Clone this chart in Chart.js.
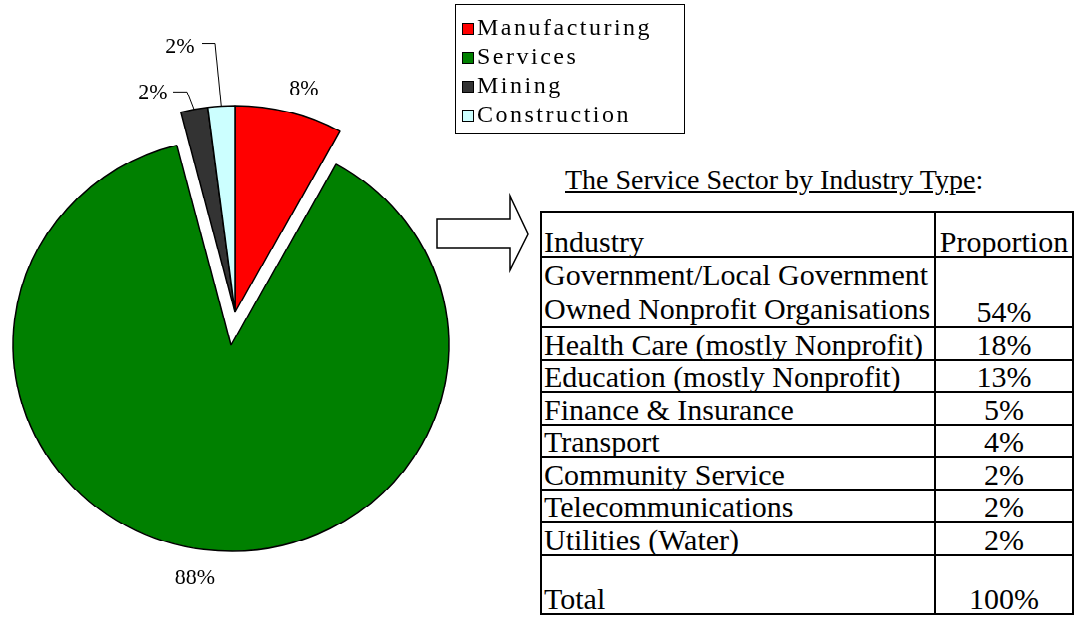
<!DOCTYPE html>
<html>
<head>
<meta charset="utf-8">
<title>Economy by sector</title>
<script src="https://cdn.jsdelivr.net/npm/chart.js@4.4.1/dist/chart.umd.min.js"></script>
<style>
  html, body { margin: 0; padding: 0; background: #fff; overflow: hidden; }
  body { width: 1082px; height: 619px; position: relative; color: #000;
         font-family: 'Liberation Serif', serif; }
  /* the pie is an ellipse, slightly flatter than wide */
  #pieBox { position: absolute; left: 0; top: 0; width: 470px; height: 700px;
            transform: scaleY(0.945); transform-origin: 0 0; }
  #pieBox canvas { position: absolute; left: 0; top: 0; }
  #legend { position: absolute; left: 455px; top: 4px; width: 230px; height: 130px;
            border: 1px solid #000; box-sizing: border-box; padding-top: 8px; }
  #legend div { height: 29px; line-height: 29px; font-size: 24px; letter-spacing: 2.5px;
                padding-left: 6px; white-space: nowrap; }
  #legend span { display: inline-block; width: 12px; height: 12px; border: 1px solid #000;
                 box-sizing: border-box; margin-right: 3px; vertical-align: 0px; }
  #title { position: absolute; left: 565px; top: 164px; font-size: 28px; white-space: nowrap; }
  #arrow { position: absolute; left: 430px; top: 190px; }
  #sectorTable { position: absolute; left: 540px; top: 211px; width: 534px;
                 border-collapse: collapse; font-size: 30px; }
  #sectorTable td { border: 2px solid #000; padding: 0 0 0 2px; vertical-align: bottom;
                    line-height: 29px; white-space: pre; }
  #sectorTable td.gov { line-height: 34px; }
  #sectorTable td.num { text-align: center; width: 136px; padding: 0; }
</style>
</head>
<body>
<div id="pieBox">
  <canvas id="restPie" width="470" height="660"></canvas>
  <canvas id="servicesPie" width="470" height="660"></canvas>
</div>
<div id="legend"></div>
<div id="title"><u>The Service Sector by Industry Type</u>:</div>
<canvas id="arrow" width="110" height="90"></canvas>
<table id="sectorTable"></table>

<script>
// economy split by sector
const sectors = ['Manufacturing', 'Services', 'Mining', 'Construction'];
const sectorShare = [8, 88, 2, 2];
const sectorColors = ['#ff0000', '#008000', '#333333', '#ccffff'];

// breakdown of the service sector
const industries = [
  'Government/Local Government\nOwned Nonprofit Organisations',
  'Health Care (mostly Nonprofit)',
  'Education (mostly Nonprofit)',
  'Finance & Insurance',
  'Transport',
  'Community Service',
  'Telecommunications',
  'Utilities (Water)'
];
const industryShare = [54, 18, 13, 5, 4, 2, 2, 2];

const SQUASH = 0.945;            // matches the scaleY on #pieBox
const PIE_R = 218;
const EXPLODED = 1;              // Services is pulled out of the pie
const EXPLODE_SHIFT = [-4, 35];  // how far the Services canvas sits from the rest
const LABEL_FONT = "22px 'Liberation Serif', serif";

// small slices get their label off to the side with an elbowed leader (page px)
const leaderLabels = {
  2: { text: [153, 93], elbow: [[173, 92], [187, 92]] },
  3: { text: [180, 47], elbow: [[202, 44], [215, 44]] }
};

const pctLabels = {
  id: 'pctLabels',
  afterDatasetsDraw(chart, args, opts) {
    const ctx = chart.ctx;
    const toCanvas = (p) => [p[0] - opts.shift[0], p[1] / SQUASH - opts.shift[1]];
    const arcs = chart.getDatasetMeta(0).data;
    ctx.save();
    ctx.fillStyle = '#000';
    ctx.strokeStyle = '#000';
    ctx.lineWidth = 1;
    ctx.font = LABEL_FONT;
    ctx.textAlign = 'center';
    ctx.textBaseline = 'middle';
    arcs.forEach((arc, i) => {
      if (!opts.shown.includes(i)) return;
      const mid = (arc.startAngle + arc.endAngle) / 2;
      const text = sectorShare[i] + '%';
      let tx, ty;
      if (leaderLabels[i]) {
        const spec = leaderLabels[i];
        const ax = arc.x + Math.cos(mid) * arc.outerRadius;
        const ay = arc.y + Math.sin(mid) * arc.outerRadius;
        ctx.beginPath();
        const pts = spec.elbow.map(toCanvas);
        ctx.moveTo(pts[0][0], pts[0][1]);
        for (let k = 1; k < pts.length; k++) ctx.lineTo(pts[k][0], pts[k][1]);
        ctx.lineTo(ax, ay);
        ctx.stroke();
        [tx, ty] = toCanvas(spec.text);
      } else {
        // outside end: push the text box off the rim along the slice's middle
        const r = arc.outerRadius + 26;
        const w = ctx.measureText(text).width;
        tx = arc.x + Math.cos(mid) * (r + w + 4);
        ty = arc.y + Math.sin(mid) * (r + 2) + 3;
      }
      ctx.save();
      ctx.translate(tx, ty);
      ctx.scale(1, 1 / SQUASH);
      ctx.fillText(text, 0, 0);
      ctx.restore();
    });
    ctx.restore();
  }
};

function sectorPie(id, shown, shift) {
  const on = (i) => shown.includes(i);
  const canvas = document.getElementById(id);
  canvas.style.left = shift[0] + 'px';
  canvas.style.top = shift[1] + 'px';
  return new Chart(canvas, {
    type: 'pie',
    data: {
      labels: sectors,
      datasets: [{
        data: sectorShare,
        backgroundColor: sectorColors.map((c, i) => on(i) ? c : 'rgba(0,0,0,0)'),
        borderColor: '#000',
        borderWidth: sectorShare.map((v, i) => on(i) ? 1.5 : 0)
      }]
    },
    options: {
      responsive: false,
      animation: false,
      events: [],
      radius: PIE_R,
      layout: { padding: 0 },
      plugins: {
        legend: { display: false },
        tooltip: { enabled: false },
        pctLabels: { shown: shown, shift: shift }
      }
    },
    plugins: [pctLabels]
  });
}

function drawArrow() {
  // block arrow pointing from the pie to the table
  const actx = document.getElementById('arrow').getContext('2d');
  actx.beginPath();
  actx.moveTo(7, 29); actx.lineTo(80, 29); actx.lineTo(80, 6); actx.lineTo(98, 44);
  actx.lineTo(80, 80); actx.lineTo(80, 58); actx.lineTo(7, 58);
  actx.closePath();
  actx.fillStyle = '#fff';
  actx.fill();
  actx.lineWidth = 1.5;
  actx.strokeStyle = '#000';
  actx.stroke();
}

function buildLegend() {
  const legend = document.getElementById('legend');
  sectors.forEach((name, i) => {
    const row = document.createElement('div');
    const sw = document.createElement('span');
    sw.style.background = sectorColors[i];
    row.appendChild(sw);
    row.appendChild(document.createTextNode(name));
    legend.appendChild(row);
  });
}

function buildTable() {
  const table = document.getElementById('sectorTable');
  function addRow(label, value, height) {
    const tr = table.insertRow();
    tr.style.height = height + 'px';
    const a = tr.insertCell();
    a.textContent = label;
    if (label.includes('\n')) a.className = 'gov';
    const b = tr.insertCell();
    b.className = 'num';
    b.textContent = value;
  }
  addRow('Industry', 'Proportion', 45);
  industries.forEach((name, i) => {
    addRow(name, industryShare[i] + '%', name.includes('\n') ? 70 : 32.5);
  });
  addRow('Total', industryShare.reduce((s, v) => s + v, 0) + '%', 59);
}

window.onload = function() {
  buildLegend();
  buildTable();
  drawArrow();
  sectorPie('restPie', [0, 2, 3], [0, 0]);
  sectorPie('servicesPie', [EXPLODED], EXPLODE_SHIFT);
};
</script>
</body>
</html>
